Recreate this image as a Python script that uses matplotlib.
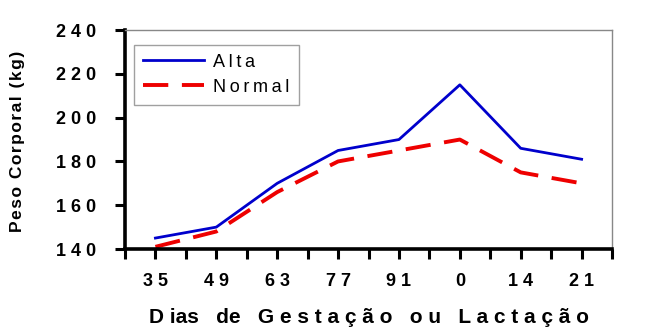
import numpy as np
import matplotlib
matplotlib.use("Agg")
import matplotlib.pyplot as plt

plt.rcParams['font.family'] = ['Liberation Sans', 'DejaVu Sans']

dias = ["35", "49", "63", "77", "91", "0", "14", "21"]
alta = [145, 150, 170, 185, 190, 215, 186, 181]
normal = [141, 148, 166, 180, 185, 190, 175, 170]
yticks = [140, 160, 180, 200, 220, 240]


def spaced(s, gap=" "):
    return gap.join(s)


fig = plt.figure(figsize=(6.56, 3.27), dpi=100)
ax = fig.add_axes([0.1905, 0.2385, 0.7425, 0.6695])

x = np.arange(len(dias))
ax.plot(x, alta, color="#0000cc", lw=2.0, label=spaced("Alta", "\u2009"))
ax.plot(x, normal, color="#ee0000", lw=2.8, dashes=(6.5, 3.5),
        label=spaced("Normal", "\u2009"))

ax.set_xlim(-0.5, len(dias) - 0.5)
ax.set_ylim(140, 240)

ax.set_xticks(x)
ax.set_xticklabels([spaced(d) for d in dias], fontsize=13, fontweight="bold")
ax.set_xticks(np.arange(-0.5, len(dias), 1.0), minor=True)
ax.set_yticks(yticks)
ax.set_yticklabels([spaced(str(v)) for v in yticks], fontsize=13,
                   fontweight="bold")

ax.tick_params(axis="both", which="both", direction="out", width=2.2,
               length=7, color="black")
ax.tick_params(axis="x", which="major", pad=10)
ax.tick_params(axis="y", pad=14)

for side in ("left", "bottom"):
    ax.spines[side].set_linewidth(2.6)
    ax.spines[side].set_color("black")
for side in ("top", "right"):
    ax.spines[side].set_linewidth(1.0)
    ax.spines[side].set_color("#888888")

ax.set_xlabel("D ias   de   G e s t a ç ã o   o u   L a c t a ç ã o",
              fontsize=15, fontweight="bold")
ax.xaxis.set_label_coords(0.5, -0.27)
ax.set_ylabel(spaced("Peso Corporal (kg)", "\u200a"), fontsize=12.5,
              fontweight="bold")
ax.yaxis.set_label_coords(-0.205, 0.49)

leg = ax.legend(loc="upper left", bbox_to_anchor=(0.0, 0.975), fontsize=13,
                frameon=True, fancybox=False, handlelength=3.4,
                borderpad=0.5, labelspacing=0.45, handletextpad=0.5)
leg.get_frame().set_edgecolor("#888888")
leg.get_frame().set_linewidth(1.0)

fig.savefig("out.png", dpi=100)
